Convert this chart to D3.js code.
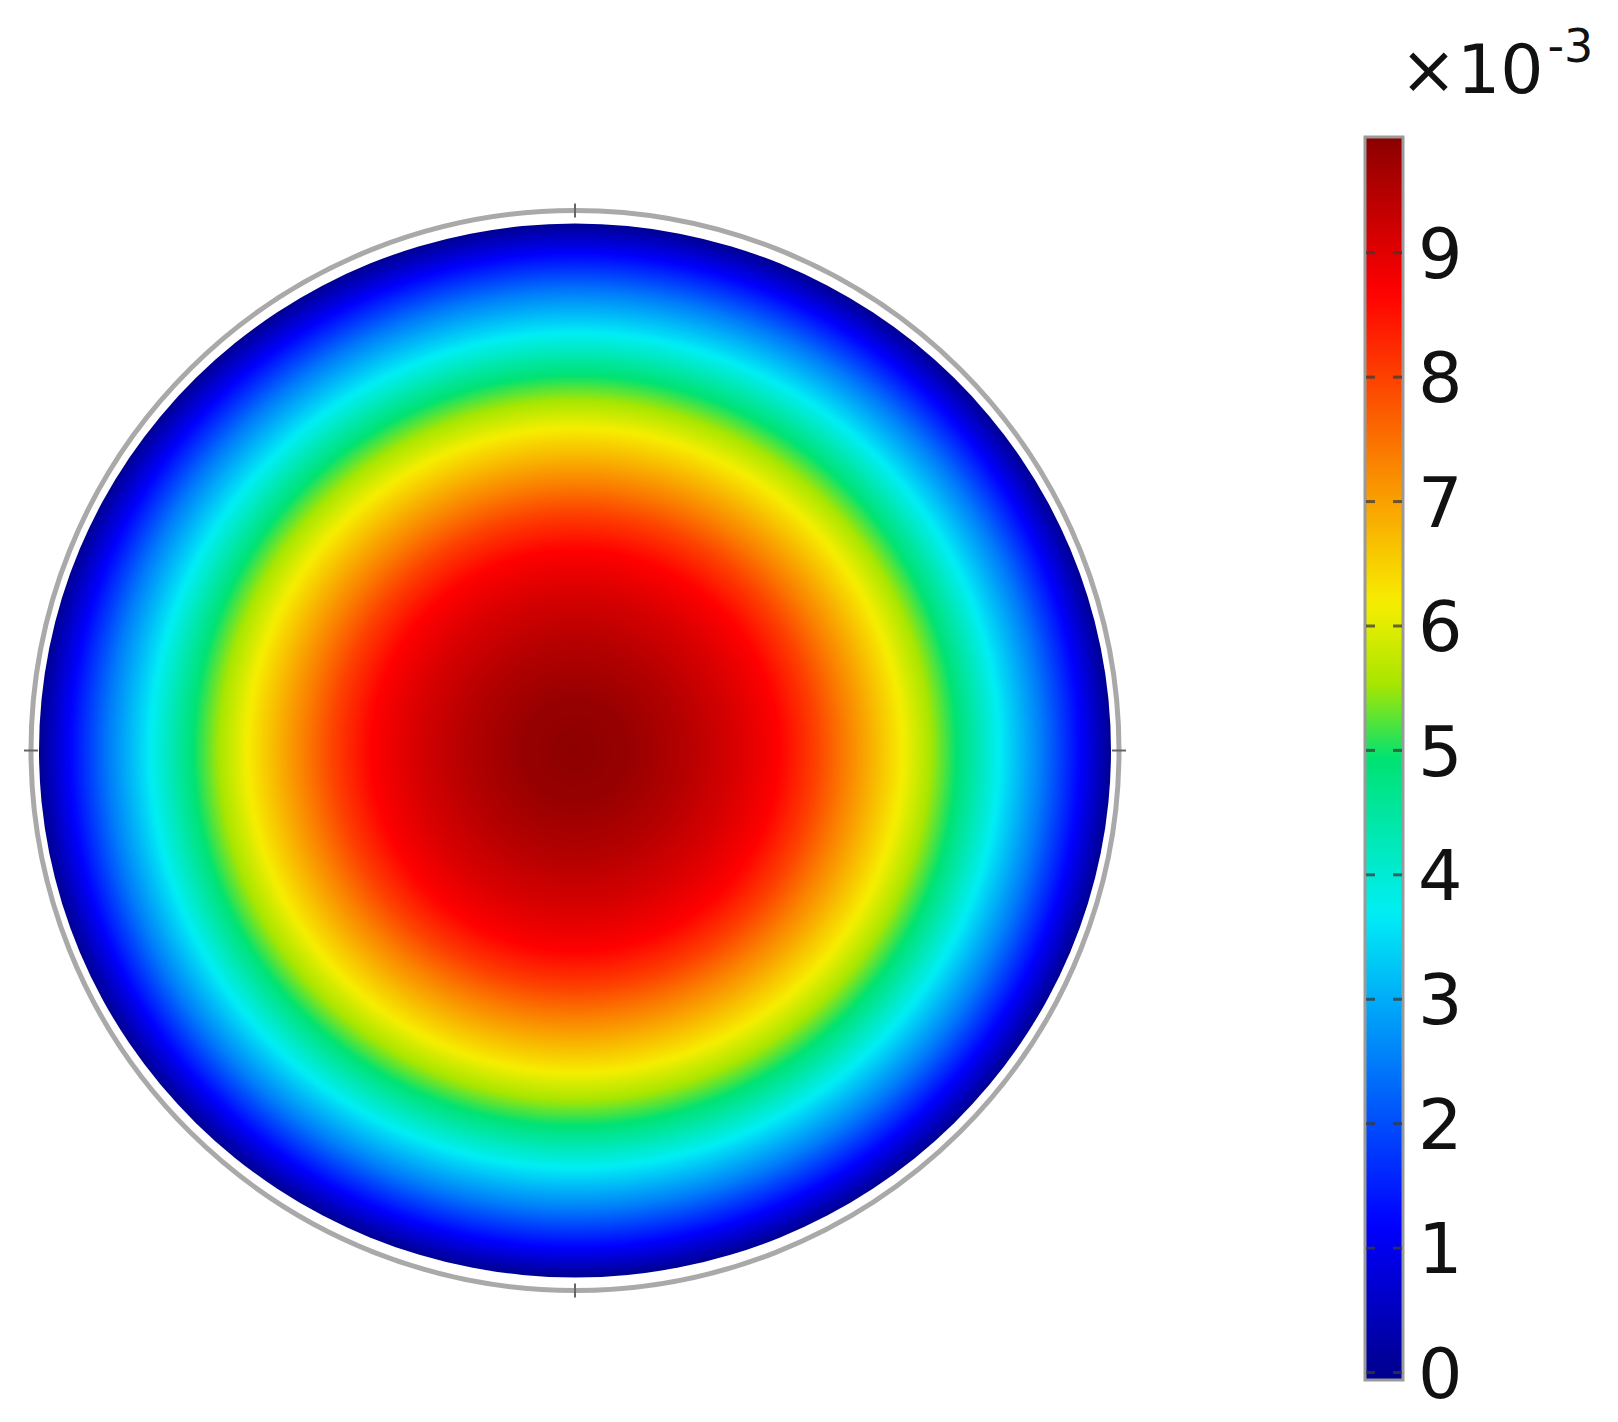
<!DOCTYPE html>
<html>
<head>
<meta charset="utf-8">
<script src="https://cdn.jsdelivr.net/npm/d3@7"></script>
<style>
  html, body { margin: 0; padding: 0; background: #fff; }
  svg { display: block; }
  text { font-family: "DejaVu Sans", sans-serif; fill: #111; }
</style>
</head>
<body>
<div id="chart"></div>
<script>
// radial profile of the field (r = fraction of disk radius, value in 1e-3)
var profileR   = [0,    0.1,  0.2, 0.3, 0.38, 0.45, 0.51, 0.61, 0.71, 0.79, 0.87, 0.94, 1.0];
var profileVal = [9.92, 9.8,  9.5, 9.1, 8.68, 8.0,  7.3,  6.2,  4.96, 3.72, 2.5,  1.24, 0];

// colour bar
var cbarMin = -0.06, cbarMax = 9.93;
var cbarTicks = [0, 1, 2, 3, 4, 5, 6, 7, 8, 9];
var cbarExponent = "-3";

// rainbow colour map (position along the bar, colour)
var cmapPos    = [0, 0.125, 0.375, 0.5, 0.56, 0.625, 0.875, 1];
var cmapColors = ["#00008c", "#0000ff", "#00eef5", "#00e272", "#a8e600", "#f6ee00", "#ff0000", "#8c0000"];

var W = 1618, H = 1422;

var svg = d3.select("#chart").append("svg")
        .attr("width", W)
        .attr("height", H);

var defs = svg.append("defs");

var color = d3.scaleLinear()
        .domain(cmapPos.map(function(p) { return cbarMin + p * (cbarMax - cbarMin); }))
        .range(cmapColors)
        .interpolate(d3.interpolateRgb)
        .clamp(true);

var profile = d3.scaleLinear().domain(profileR).range(profileVal);

// disk geometry
var cx = 575, cy = 750.5, rx = 536, ry = 527;

var rg = defs.append("radialGradient")
        .attr("id", "field")
        .attr("cx", "50%").attr("cy", "50%").attr("r", "50%");

rg.selectAll("stop")
        .data(d3.range(0, 201).map(function(i) { return i / 200; }))
        .enter().append("stop")
        .attr("offset", function(t) { return t; })
        .attr("stop-color", function(t) { return color(profile(t)); });

// frame ring
svg.append("ellipse")
        .attr("cx", cx).attr("cy", cy)
        .attr("rx", 544).attr("ry", 540)
        .style("fill", "none")
        .style("stroke", "#a9a9a9")
        .style("stroke-width", 5);

svg.append("ellipse")
        .attr("cx", cx).attr("cy", cy)
        .attr("rx", rx).attr("ry", ry)
        .style("fill", "url(#field)");

// little ticks on the ring at the four axis points
var ringTicks = [
        [cx, cy - 540, 0, 1], [cx, cy + 540, 0, 1],
        [cx - 544, cy, 1, 0], [cx + 544, cy, 1, 0]
];
svg.selectAll("line.ringtick")
        .data(ringTicks)
        .enter().append("line")
        .attr("class", "ringtick")
        .attr("x1", function(d) { return d[0] - 7 * d[2]; })
        .attr("x2", function(d) { return d[0] + 7 * d[2]; })
        .attr("y1", function(d) { return d[1] - 7 * d[3]; })
        .attr("y2", function(d) { return d[1] + 7 * d[3]; })
        .style("stroke", "#666")
        .style("stroke-width", 2);

// colour bar
var barX = 1365, barW = 38, barTop = 137, barBot = 1380;

var y = d3.scaleLinear()
        .domain([cbarMin, cbarMax])
        .range([barBot, barTop]);

var lg = defs.append("linearGradient")
        .attr("id", "cbar")
        .attr("x1", 0).attr("y1", 1).attr("x2", 0).attr("y2", 0);

lg.selectAll("stop")
        .data(d3.range(0, 101).map(function(i) { return i / 100; }))
        .enter().append("stop")
        .attr("offset", function(t) { return t; })
        .attr("stop-color", function(t) { return color(cbarMin + t * (cbarMax - cbarMin)); });

svg.append("rect")
        .attr("x", barX).attr("y", barTop)
        .attr("width", barW).attr("height", barBot - barTop)
        .style("fill", "url(#cbar)")
        .style("stroke", "#9a9a9a")
        .style("stroke-width", 3);

var tickG = svg.selectAll("g.cbtick")
        .data(cbarTicks)
        .enter().append("g")
        .attr("class", "cbtick")
        .attr("transform", function(d) { return "translate(0," + y(d) + ")"; });

tickG.append("line")
        .attr("x1", barX + 1).attr("x2", barX + 10)
        .style("stroke", "#3a3a3a").style("stroke-opacity", 0.75).style("stroke-width", 3);

tickG.append("line")
        .attr("x1", barX + barW - 10).attr("x2", barX + barW - 1)
        .style("stroke", "#3a3a3a").style("stroke-opacity", 0.75).style("stroke-width", 3);

tickG.append("text")
        .attr("x", 1418)
        .attr("dy", "0.36em")
        .style("font-size", "70px")
        .text(function(d) { return d; });

// exponent label
var expo = svg.append("text")
        .attr("x", 1400)
        .attr("y", 93)
        .style("font-size", "68px");

expo.append("tspan").text("\u00d710");
expo.append("tspan")
        .attr("dx", 4)
        .attr("dy", -31)
        .style("font-size", "46px")
        .text(cbarExponent);
</script>
</body>
</html>
